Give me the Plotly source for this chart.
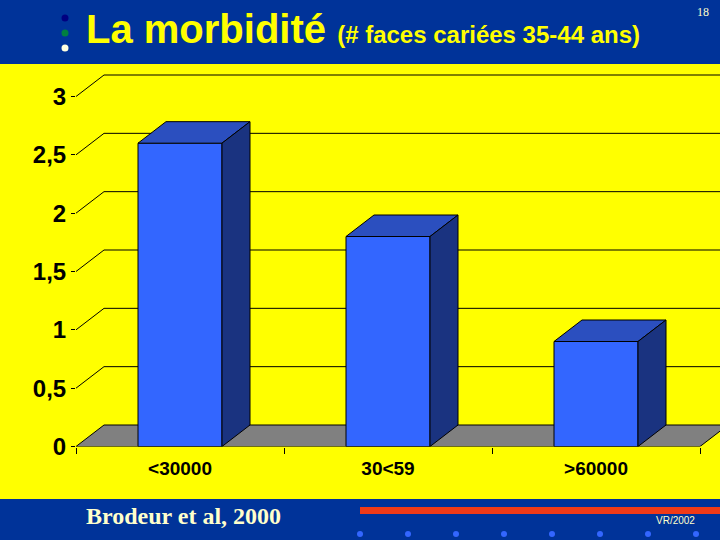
import plotly.graph_objects as go

categories = ["<30000", "30<59", ">60000"]
values = [2.6, 1.8, 0.9]
y_ticks = [0, 0.5, 1, 1.5, 2, 2.5, 3]
y_labels = ["<b>0</b>", "<b>0,5</b>", "<b>1</b>", "<b>1,5</b>", "<b>2</b>", "<b>2,5</b>", "<b>3</b>"]

W, H = 720, 540
BLUE = "#003399"
YELLOW = "#FFFF00"
PALE = "#FFFFCC"
FRONT = "#3366FF"
TOP = "#2B4FBF"
SIDE = "#1A3380"

# decalage de la perspective, en unites des axes
DX = 28 / 208
DY = 21.5 / 116.67
BAR_W = 84 / 208
X_MIN, X_MAX = -0.5, 2.5
# les lignes sont coupees au bord du repere: on l'etend jusqu'au bord droit et au-dessus de 3
X_END = X_MAX + 20 / 208
Y_END = 3 + 26.5 / 116.67
positions = list(range(len(categories)))

fig = go.Figure()


def poly(x, y, fill, xaxis="x", yaxis="y"):
    fig.add_trace(go.Scatter(x=x, y=y, mode="lines", fill="toself", fillcolor=fill,
                             line=dict(color="black", width=1),
                             xaxis=xaxis, yaxis=yaxis, showlegend=False, hoverinfo="skip"))


# lignes de grille (plan du fond + diagonale a gauche)
for t in y_ticks[1:]:
    fig.add_trace(go.Scatter(x=[X_MIN, X_MIN + DX, X_MAX + DX], y=[t, t + DY, t + DY],
                             mode="lines", line=dict(color="black", width=1),
                             showlegend=False, hoverinfo="skip"))

# plancher gris
poly([X_MIN, X_MIN + DX, X_MAX + DX, X_MAX, X_MIN], [0, DY, DY, 0, 0], "#808080")

# barres (face avant) dans un second repere, pour passer au-dessus de la grille
fig.add_trace(go.Bar(x=positions, y=values, width=BAR_W, marker=dict(color=FRONT, line=dict(color="black", width=1)),
                     xaxis="x2", yaxis="y2", showlegend=False, hovertemplate="%{y}<extra></extra>"))

# faces superieure et laterale
for p, v in zip(positions, values):
    left, right = p - BAR_W / 2, p + BAR_W / 2
    poly([left, left + DX, right + DX, right, left], [v, v + DY, v + DY, v, v], TOP, "x2", "y2")
    poly([right, right + DX, right + DX, right, right], [0, DY, v + DY, v, 0], SIDE, "x2", "y2")

# bandeaux et decor du modele de diapo
shapes = [
    dict(type="rect", xref="paper", yref="paper", x0=0, x1=1, y0=1 - 64 / H, y1=1, fillcolor=BLUE, line_width=0, layer="below"),
    dict(type="rect", xref="paper", yref="paper", x0=0, x1=1, y0=0, y1=41 / H, fillcolor=BLUE, line_width=0, layer="below"),
    dict(type="rect", xref="paper", yref="paper", x0=360 / W, x1=1, y0=1 - 514 / H, y1=1 - 507 / H, fillcolor="#F03A17", line_width=0, layer="below"),
]
for px, py, col in [(65, 18, "#000080"), (65, 33, "#008040"), (65, 48, "#FFFFE0")]:
    shapes.append(dict(type="circle", xref="paper", yref="paper", x0=(px - 3.5) / W, x1=(px + 3.5) / W,
                       y0=1 - (py + 3.5) / H, y1=1 - (py - 3.5) / H, fillcolor=col, line_width=0, layer="below"))
for px in range(360, 720, 48):
    shapes.append(dict(type="circle", xref="paper", yref="paper", x0=(px - 3) / W, x1=(px + 3) / W,
                       y0=1 - 537 / H, y1=1 - 531 / H, fillcolor="#3366FF", line_width=0, layer="below"))

annotations = [
    dict(text="18", x=703 / W, y=1 - 12 / H, font=dict(family="Liberation Serif", size=12, color=PALE)),
    dict(text="<b>Brodeur et al, 2000</b>", x=183 / W, y=1 - 516 / H, font=dict(family="Liberation Serif", size=24, color=PALE)),
    dict(text="VR/2002", x=675 / W, y=1 - 520 / H, font=dict(family="Liberation Sans", size=10, color=PALE)),
]
for a in annotations:
    a.update(xref="paper", yref="paper", showarrow=False, xanchor="center", yanchor="middle")

x_dom = [76 / W, 1]
y_dom = [1 - 446.5 / H, 1 - 70 / H]

fig.update_layout(
    width=W, height=H, autosize=False,
    margin=dict(l=0, r=0, t=0, b=0),
    paper_bgcolor=YELLOW, plot_bgcolor="rgba(0,0,0,0)",
    title=dict(
        text="<b>La morbidité <span style='font-size:24px'>(# faces cariées 35-44 ans)</span></b>",
        x=86 / W, xanchor="left", y=1 - 29 / H, yanchor="middle", automargin=False,
        font=dict(family="Liberation Sans", size=40, color=YELLOW),
    ),
    xaxis=dict(domain=x_dom, range=[X_MIN, X_END], tickvals=positions,
               ticktext=[f"<b>{c.replace('<', '&lt;')}</b>" for c in categories],
               showgrid=False, zeroline=False, showline=False,
               ticks="", ticklabelstandoff=8, automargin=False,
               tickfont=dict(family="Liberation Sans", size=19, color="black"),
               minor=dict(tickvals=[-0.5, 0.5, 1.5, 2.5], ticks="outside", ticklen=6, tickcolor="black", tickwidth=1)),
    yaxis=dict(domain=y_dom, range=[0, Y_END], tickvals=y_ticks, ticktext=y_labels,
               showgrid=False, zeroline=False, ticks="outside", ticklen=4, tickcolor="black", automargin=False,
               tickfont=dict(family="Liberation Sans", size=24, color="black")),
    xaxis2=dict(overlaying="x", range=[X_MIN, X_END], visible=False, automargin=False),
    yaxis2=dict(overlaying="y", range=[0, Y_END], visible=False, automargin=False),
    shapes=shapes, annotations=annotations,
    font=dict(family="Liberation Sans"),
)

fig.write_html("out.html", config=dict(displayModeBar=False),
               post_script="document.body.style.margin='0';document.body.style.overflow='hidden';")
